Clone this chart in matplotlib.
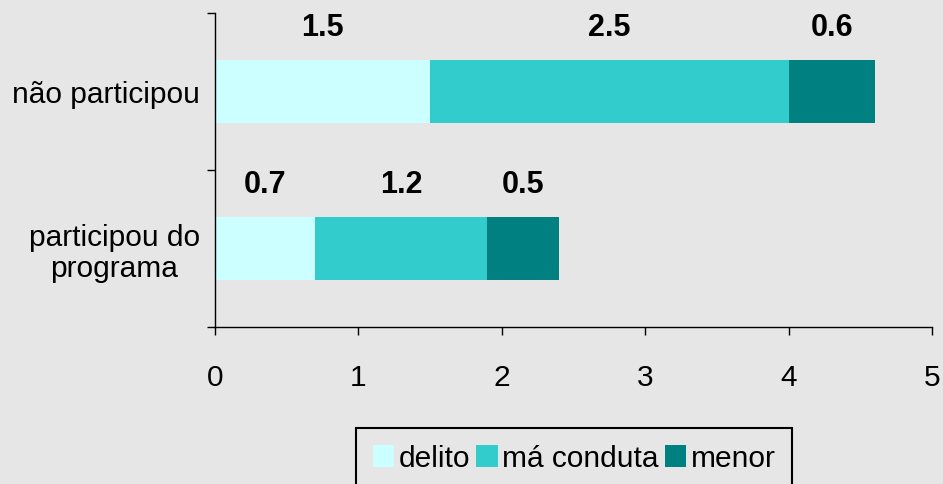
import numpy as np
import matplotlib.pyplot as plt
from matplotlib.ticker import FixedLocator

# data
groups = ['participou do\nprograma', 'não participou']
delito = [0.7, 1.5]
ma_conduta = [1.2, 2.5]
menor = [0.5, 0.6]
series_names = ['delito', 'má conduta', 'menor']
colors = ['#ccffff', '#33cccc', '#008080']

plt.rcParams['font.family'] = ['Liberation Sans', 'DejaVu Sans']
bg = '#e6e6e6'
fs = 21.5

fig = plt.figure(figsize=(9.43, 4.85), dpi=100, facecolor=bg)
ax = fig.add_axes([215 / 943, 1 - 328 / 485, (932 - 215) / 943, (328 - 14) / 485])
ax.set_facecolor(bg)

y = np.arange(len(groups))
left = np.zeros(len(groups))
for vals, name, c in zip([delito, ma_conduta, menor], series_names, colors):
    vals = np.array(vals)
    ax.barh(y, vals, left=left, height=0.4, color=c, label=name)
    for yi, l, v in zip(y, left, vals):
        ax.text(l + v / 2, yi + 0.41, f'{v:.1f}', ha='center', va='center',
                fontsize=22, fontweight='bold')
    left = left + vals

ax.set_xlim(0, 5)
ax.set_ylim(-0.5, 1.5)
ax.set_xticks(range(6))
ax.set_yticks(y)
ax.set_yticklabels(groups, multialignment='center', linespacing=1.12)
ax.yaxis.set_minor_locator(FixedLocator([-0.5, 0.5, 1.5]))
ax.tick_params(axis='y', which='major', length=0, pad=11, labelsize=fs)
ax.tick_params(axis='y', which='minor', length=6, width=1, direction='out')
ax.tick_params(axis='x', length=6, width=1, direction='out', pad=20, labelsize=fs)

for s in ['top', 'right']:
    ax.spines[s].set_visible(False)
for s in ['left', 'bottom']:
    ax.spines[s].set_color('black')
    ax.spines[s].set_linewidth(1)

leg = ax.legend(loc='upper center', bbox_to_anchor=(574 / 943, 1 - 429 / 485),
                bbox_transform=fig.transFigure, ncol=3, fontsize=fs,
                frameon=True, fancybox=False, edgecolor='black', facecolor=bg,
                handlelength=0.73, handleheight=0.73, handletextpad=0.14,
                columnspacing=0.2, borderpad=0.55, borderaxespad=0)
leg.get_frame().set_linewidth(1.5)
leg.get_frame().set_alpha(1)

fig.savefig('out.png', dpi=100, facecolor=bg)
